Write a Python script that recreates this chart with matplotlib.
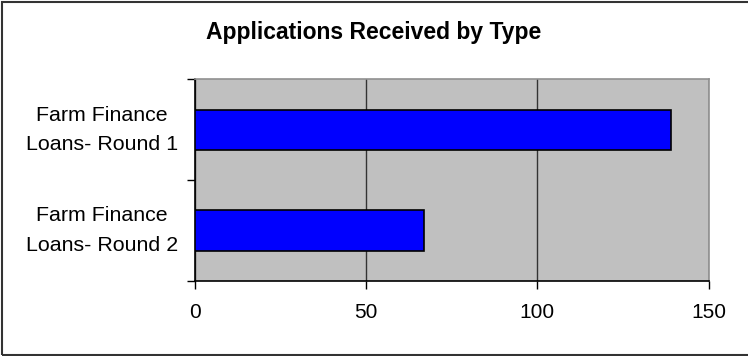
import matplotlib
matplotlib.use("Agg")
import matplotlib.pyplot as plt
from matplotlib.patches import Rectangle

plt.rcParams['font.family'] = ['Liberation Sans', 'DejaVu Sans']

categories = ["Farm Finance\nLoans- Round 1", "Farm Finance\nLoans- Round 2"]
applications = [139, 67]
x_ticks = [0, 50, 100, 150]

fig = plt.figure(figsize=(7.48, 3.56), dpi=100)
fig.patch.set_facecolor('white')

# outer chart border
fig.add_artist(Rectangle((1.5 / 748, 1.5 / 356), 1.2, 1 - 3.0 / 356,
                         transform=fig.transFigure, fill=False,
                         edgecolor='#333333', linewidth=1.5, clip_on=False))

ax = fig.add_axes([0.2603, 0.2107, 0.9475 - 0.2603, 0.7772 - 0.2107])
ax.set_facecolor('#C0C0C0')

ypos = list(range(len(categories)))[::-1]
ax.barh(ypos, applications, height=0.4, color='#0000FF',
        edgecolor='black', linewidth=1.2, zorder=3)

ax.set_xlim(0, 150)
ax.set_ylim(-0.5, len(categories) - 0.5)
ax.set_xticks(x_ticks)
ax.set_xticklabels([str(t) for t in x_ticks], fontsize=15)
ax.tick_params(axis='x', direction='out', length=6, width=1, pad=10, color='black')

ax.set_yticks(ypos)
ax.set_yticklabels(categories, fontsize=15.4, linespacing=1.68)
ax.tick_params(axis='y', which='major', length=0, pad=67)
for lab in ax.get_yticklabels():
    lab.set_ha('center')
    lab.set_va('center')
    lab.set_multialignment('center')
ax.set_yticks([y - 0.5 for y in range(len(categories) + 1)], minor=True)
ax.tick_params(axis='y', which='minor', direction='out', length=6, width=1, color='black')

ax.xaxis.grid(True, color='#333333', linewidth=1, zorder=1)
ax.set_axisbelow(True)

for side in ('left', 'bottom'):
    ax.spines[side].set_color('black')
    ax.spines[side].set_linewidth(1.2)
for side in ('top', 'right'):
    ax.spines[side].set_color('#909090')
    ax.spines[side].set_linewidth(1.2)

fig.text(0.5, 1 - 33 / 356, "Applications Received by Type", ha='center', va='center',
         fontsize=16.5, fontweight='bold')

fig.savefig("out.png", dpi=100)
